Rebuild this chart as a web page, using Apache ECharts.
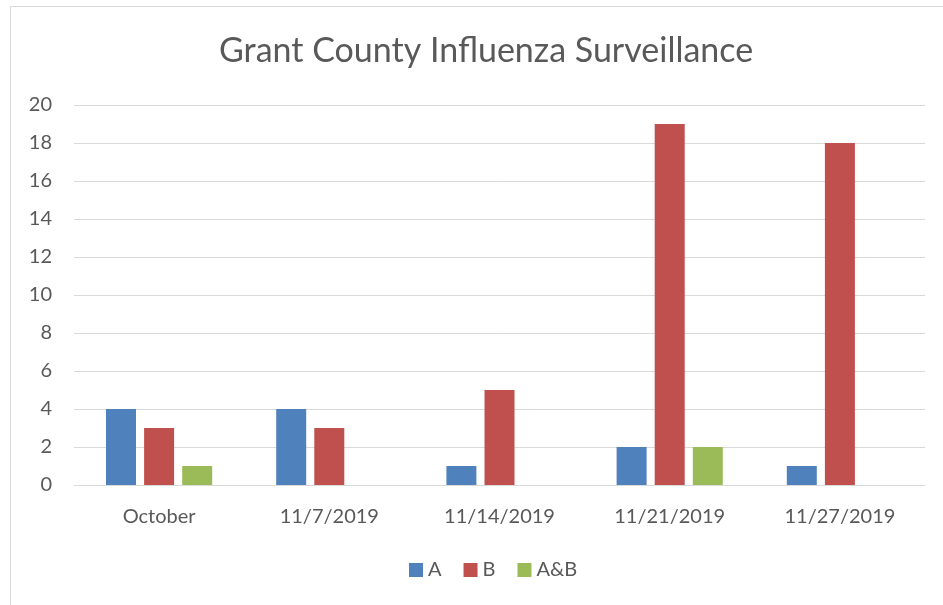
<!DOCTYPE html>
<html>
<head>
<meta charset="utf-8">
<script src="https://cdn.jsdelivr.net/npm/echarts@6/dist/echarts.min.js"></script>
<style>
  body { margin: 0; background: #fff; }
  #fluChart { width: 943px; height: 605px; }
</style>
</head>
<body>
<div id="fluChart"></div>
<script>
const categories = ['October', '11/7/2019', '11/14/2019', '11/21/2019', '11/27/2019'];
const seriesA = [4, 4, 1, 2, 1];
const seriesB = [3, 3, 5, 19, 18];
const seriesAB = [1, 0, 0, 2, 0];
const seriesNames = ['A', 'B', 'A&B'];
const colors = ['#4F81BD', '#C0504D', '#9BBB59'];

const chart = echarts.init(document.getElementById('fluChart'));
const font = 'Lato, "Open Sans", sans-serif';

const makeBar = (name, data, color) => ({
  name: name,
  type: 'bar',
  data: data,
  barWidth: 30,
  barGap: '27%',
  itemStyle: { color: color },
  emphasis: { disabled: true }
});

const option = {
  animation: false,
  textStyle: { fontFamily: font },
  graphic: [{
    type: 'rect',
    shape: { x: 10.5, y: 6.5, width: 960, height: 640 },
    style: { fill: 'none', stroke: '#d9d9d9', lineWidth: 1 },
    silent: true
  }],
  title: {
    text: 'Grant County Influenza Surveillance',
    left: 214,
    top: 29,
    textStyle: { fontFamily: font, fontSize: 34, fontWeight: 'normal', color: '#595959' }
  },
  legend: {
    data: seriesNames,
    bottom: 20,
    left: 404,
    itemWidth: 14,
    itemHeight: 14,
    itemGap: 22,
    icon: 'rect',
    textStyle: { fontFamily: font, fontSize: 20, color: '#595959' }
  },
  grid: {
    left: 74,
    right: 18,
    top: 105,
    bottom: 120
  },
  xAxis: {
    type: 'category',
    data: categories,
    axisTick: { show: false },
    axisLine: { lineStyle: { color: '#d9d9d9', width: 1 } },
    axisLabel: { color: '#595959', fontSize: 20, margin: 22, fontFamily: font }
  },
  yAxis: {
    type: 'value',
    min: 0,
    max: 20,
    interval: 2,
    axisLine: { show: false },
    axisTick: { show: false },
    axisLabel: { color: '#595959', fontSize: 20, margin: 22, fontFamily: font },
    splitLine: { lineStyle: { color: '#d9d9d9', width: 1 } }
  },
  series: [
    makeBar(seriesNames[0], seriesA, colors[0]),
    makeBar(seriesNames[1], seriesB, colors[1]),
    makeBar(seriesNames[2], seriesAB, colors[2])
  ]
};

chart.setOption(option);
</script>
</body>
</html>
